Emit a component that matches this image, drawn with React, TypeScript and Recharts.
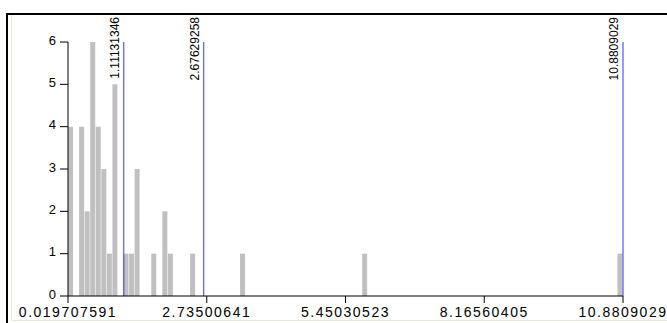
import { ComposedChart, Bar, XAxis, YAxis, ReferenceLine } from "recharts";

// histogram range and bin count
const rangeMin = 0.019707591;
const rangeMax = 10.8809029;
const binTotal = 100;

// non-empty bins only (index -> count)
const binIndex = [0, 2, 3, 4, 5, 6, 7, 8, 10, 11, 12, 15, 17, 18, 22, 31, 53, 99];
const binCount = [4, 4, 2, 6, 4, 3, 1, 5, 1, 1, 3, 1, 2, 1, 1, 1, 1, 1];

const xTicks = [0.019707591, 2.73500641, 5.45030523, 8.16560405, 10.8809029];
const xTickLabels = ["0.019707591", "2.73500641", "5.45030523", "8.16560405", "10.8809029"];
const yTicks = [0, 1, 2, 3, 4, 5, 6];

// marker lines drawn in blue
const markers = [1.11131346, 2.67629258, 10.8809029];
const markerLabels = ["1.11131346", "2.67629258", "10.8809029"];

const binWidth = (rangeMax - rangeMin) / binTotal;
const data = Array.from({ length: binTotal }, (_, i) => {
  const k = binIndex.indexOf(i);
  return { x: rangeMin + (i + 0.5) * binWidth, count: k >= 0 ? binCount[k] : 0 };
});

function MarkerLabel(props: any) {
  const { viewBox, value } = props;
  const x = viewBox.x - 5;
  const y = 17;
  return (
    <text
      x={x}
      y={y}
      transform={`rotate(-90, ${x}, ${y})`}
      textAnchor="end"
      fontFamily="Liberation Sans, Arial, sans-serif"
      fontSize={12}
      fill="#000"
    >
      {value}
    </text>
  );
}

export default function App() {
  return (
    <div
      style={{
        position: "relative",
        width: 667,
        height: 323,
        overflow: "hidden",
        background: "#fff",
      }}
    >
      <style>{`body{margin:0}`}</style>
      <div
        style={{
          position: "absolute",
          left: 6,
          top: 13,
          width: 700,
          height: 340,
          borderTop: "2px solid #000",
          borderLeft: "2px solid #000",
        }}
      />
      <div
        style={{
          position: "absolute",
          left: 11,
          top: 15,
          width: 700,
          height: 305,
          borderLeft: "1px solid #ece9d8",
          borderBottom: "1px solid #ece9d8",
        }}
      />
      <div style={{ position: "absolute", left: 0, top: 0 }}>
        <ComposedChart
          width={667}
          height={323}
          data={data}
          margin={{ top: 42, right: 44, bottom: 0, left: 0 }}
        >
          <XAxis
            type="number"
            dataKey="x"
            domain={[rangeMin, rangeMax]}
            ticks={xTicks}
            interval={0}
            allowDataOverflow
            height={27}
            tickSize={7}
            tickMargin={4}
            stroke="#000"
            tick={{
              fill: "#000",
              fontSize: 14,
              fontFamily: "Liberation Sans, Arial, sans-serif",
              letterSpacing: 1.5,
            }}
            tickFormatter={(v: number, i: number) => xTickLabels[i] ?? String(v)}
          />
          <YAxis
            type="number"
            domain={[0, 6]}
            ticks={yTicks}
            interval={0}
            width={68}
            tickSize={8}
            tickMargin={4}
            stroke="#000"
            tick={{
              fill: "#000",
              fontSize: 13,
              fontFamily: "Liberation Sans, Arial, sans-serif",
              dy: -2,
            }}
          />
          <Bar dataKey="count" fill="#c0c0c0" barSize={5} isAnimationActive={false} />
          {markers.map((m, i) => (
            <ReferenceLine
              key={i}
              x={m}
              stroke="#3333ff"
              strokeWidth={1}
              ifOverflow="visible"
              label={<MarkerLabel value={markerLabels[i]} />}
            />
          ))}
        </ComposedChart>
      </div>
    </div>
  );
}
